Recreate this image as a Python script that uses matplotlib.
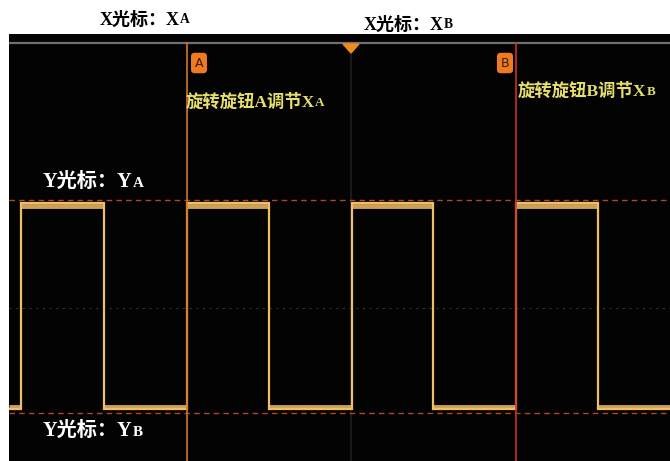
import numpy as np
import matplotlib
matplotlib.use("Agg")
import matplotlib.pyplot as plt
from matplotlib.patches import Polygon

# ---- data (time in µs, voltage in V) ----
edge_times = [12, 95, 178, 260, 343, 424, 507, 589]   # rise, fall, rise, ...
t_start, t_end = 0, 661
level_high = 2.10
level_low = -2.02
cursor_xa = 178
cursor_xb = 507
cursor_ya = 2.16
cursor_yb = -2.10
t_center = 342
y_min, y_max = -3.06, 5.48

W, H = 670, 461
fig = plt.figure(figsize=(W / 100, H / 100), dpi=100)
fig.patch.set_facecolor("white")

left_px, top_px = 9, 34
ax = fig.add_axes([left_px / W, 0, (W - left_px) / W, (H - top_px) / H])
ax.set_facecolor("#030303")
ax.set_xlim(t_start, t_end)
ax.set_ylim(y_min, y_max)
ax.set_xticks([]); ax.set_yticks([])
for s in ax.spines.values():
    s.set_visible(False)

# top grey separator line
sep_y = (308 - 43) / 50
ax.axhline(sep_y, color="#707070", lw=1.6, zorder=2)

# faint grid centre lines
ax.axhline(0, color="#333333", lw=0.8, ls=(0, (2, 4)), zorder=1)
ax.plot([t_center, t_center], [y_min, sep_y - 0.18], color="#1e1e1e", lw=1.2, zorder=1)

# waveform
xs = [t_start]
ys = [level_low]
level = level_low
for e in edge_times:
    xs.append(e); ys.append(level)
    level = level_high if level == level_low else level_low
    xs.append(e); ys.append(level)
xs.append(t_end); ys.append(level)
xs = np.array(xs); ys = np.array(ys)

trace = "#f0bd68"
ax.plot(xs, ys, color=trace, lw=1.6, zorder=5, solid_joinstyle="miter")
# thicker plateau bands (trace thickness on flat parts)
bounds = [t_start] + edge_times + [t_end]
for i in range(len(bounds) - 1):
    lvl = level_low if i % 2 == 0 else level_high
    off = -0.05 if lvl == level_high else 0.05
    ax.plot([bounds[i], bounds[i + 1]], [lvl + off, lvl + off], color=trace,
            lw=3.5, alpha=0.85, zorder=5, solid_capstyle="butt")

# Y cursors (dashed)
ax.axhline(cursor_ya, color="#b5452a", lw=1.0, ls=(0, (4, 3)), zorder=3)
ax.axhline(cursor_yb, color="#b5452a", lw=1.0, ls=(0, (4, 3)), zorder=3)

# X cursors
ax.plot([cursor_xa, cursor_xa], [y_min, sep_y], color="#d2742a", lw=1.2, zorder=6)
ax.plot([cursor_xb, cursor_xb], [y_min, sep_y], color="#c8302c", lw=1.2, zorder=6)

# trigger triangle
tri_top = sep_y - 0.02
tri = Polygon([[t_center - 8, tri_top], [t_center + 8, tri_top], [t_center, tri_top - 0.18]],
              closed=True, color="#f08a1e", zorder=7)
ax.add_patch(tri)

# A / B markers
def marker(tx, label):
    yc = (308 - 63) / 50
    ax.text(tx, yc, label, color="#3a1a05", fontsize=9, ha="center", va="center",
            family="DejaVu Sans", zorder=8,
            bbox=dict(boxstyle="round,pad=0.3,rounding_size=0.3", fc="#f07a22", ec="none"))

marker(cursor_xa + 12, "A")
marker(cursor_xb - 11, "B")

fam = ["Liberation Serif", "Noto Sans CJK SC"]

def px(x, y):
    return x / W, 1 - y / H

def label(x, y, main, sub, color, size, ha="left"):
    t = fig.text(*px(x, y), main, color=color, fontsize=size, family=fam,
                 weight="bold", ha=ha, va="center", zorder=10)
    ax.annotate(sub, xy=(1, 0.12), xycoords=t, color=color, fontsize=size * 0.75,
                family=fam, weight="bold", ha="left", va="bottom",
                annotation_clip=False, zorder=10)
    return t

# top labels (white area)
label(100, 20, "X光标：X", "A", "black", 13)
label(364, 25, "X光标：X", "B", "black", 13)

# yellow hints
label(186, 102, "旋转旋钮A调节X", "A", "#e6df6a", 12.5)
label(518, 91, "旋转旋钮B调节X", "B", "#e6df6a", 12.5)

# Y labels
label(43, 182, "Y光标：Y", "A", "white", 14.5)
label(43, 431, "Y光标：Y", "B", "white", 14.5)

fig.savefig("out.png", dpi=100, facecolor=fig.get_facecolor())
